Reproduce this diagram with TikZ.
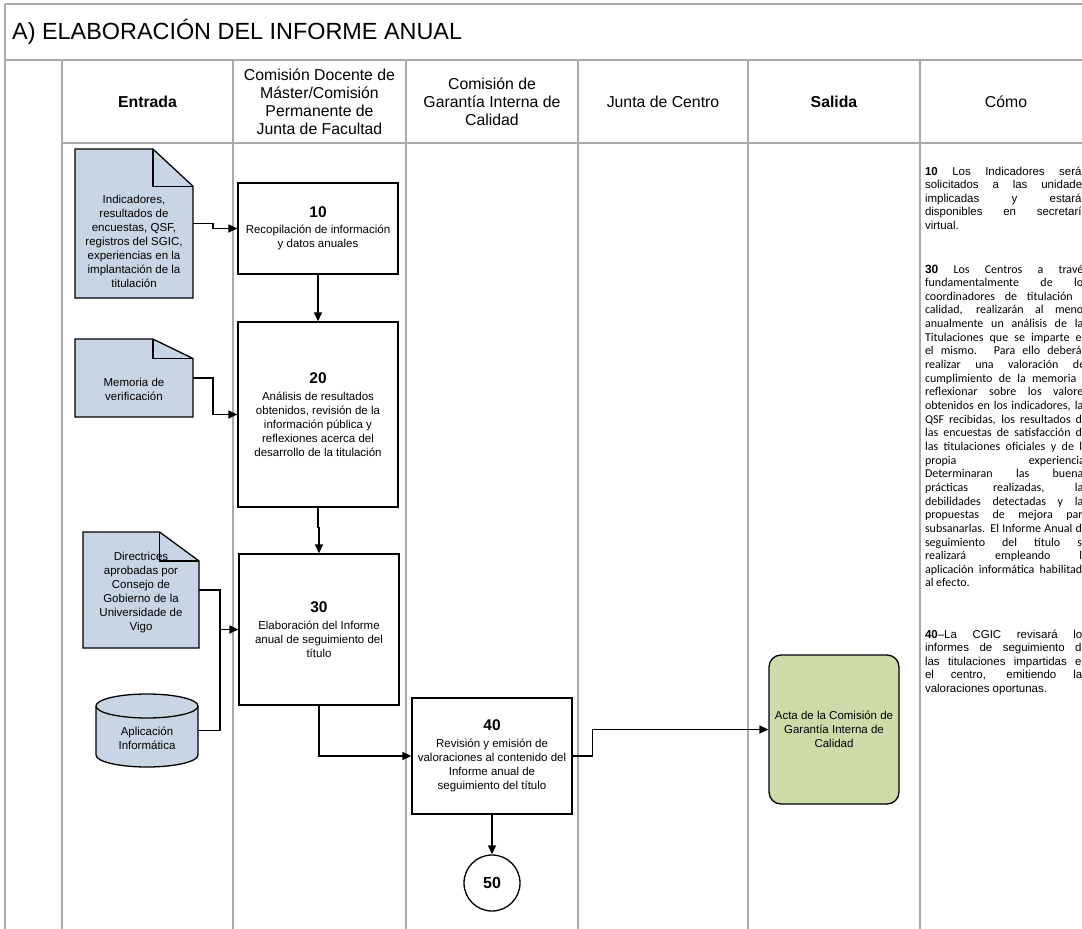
\documentclass[tikz,border=0pt]{standalone}
\usepackage{fontspec}
\setmainfont{Liberation Sans}
\newfontfamily\calibri{Carlito}
\usetikzlibrary{arrows.meta,calc}
\definecolor{docblue}{RGB}{200,213,228}
\definecolor{actagreen}{RGB}{204,219,168}
\definecolor{lanegray}{RGB}{170,170,170}
\pgfdeclarelayer{lanes}
\pgfdeclarelayer{background}
\pgfsetlayers{lanes,background,main}
\newcommand\boxfont{\fontsize{11.5}{14}\selectfont}
\newcommand\numfont{\fontsize{15.5}{17}\selectfont\bfseries}
\newcommand\arialfont{\fontsize{11.5}{13.65}\selectfont}
\newcommand\calfont{\calibri\fontsize{12}{13.65}\selectfont}
\tikzset{
  lane/.style={draw=lanegray, line width=1.6pt},
  shapeline/.style={draw=black, line width=1.3pt},
  procbox/.style={shapeline, fill=white, rectangle, inner sep=0pt, align=center, font=\boxfont},
  docanchor/.style={rectangle, inner sep=0pt, outer sep=0pt},
  doctext/.style={align=center, inner sep=0pt, font=\boxfont},
  hdr/.style={align=center, inner sep=0pt, font=\fontsize{15.8}{17.9}\selectfont},
  comoline/.style={anchor=base west, inner sep=0pt, outer sep=0pt},
  conn/.style={draw=black, line width=1.3pt},
  arr/.style={conn, -{Triangle[length=9pt,width=8pt]}},
}
\newcommand\docfig[5]{%
  \node[docanchor, minimum width={(#4-#2)*1pt}, minimum height={(#5-#3)*1pt}] (#1) at ({(#2+#4)/2},{(#3+#5)/2}) {};
  \pgfmathsetmacro\fx{#4-0.34*(#4-#2)}%
  \pgfmathsetmacro\fy{#3+0.25*(#5-#3)}%
  \begin{pgfonlayer}{background}
    \draw[shapeline, fill=docblue] (#2,#3) -- (\fx,#3) -- (#4,\fy) -- (#4,#5) -- (#2,#5) -- cycle;
  \end{pgfonlayer}
  \draw[shapeline] (\fx,#3) |- (#4,\fy);
}
\begin{document}
\begin{tikzpicture}[x=1pt,y=-1pt]
\useasboundingbox (0,0) rectangle (1082,929);
% ---------- table / lanes ----------
\begin{pgfonlayer}{lanes}
  \fill[white] (0,0) rectangle (1082,929);
  \draw[lane] (5,4) -- (1100,4);
  \draw[lane] (5,4) -- (5,940);
  \draw[lane] (5,60) -- (1100,60);
  \draw[lane] (62,143) -- (1100,143);
  \foreach \lx in {62,233,406,578,748,920}{
    \draw[lane] (\lx,60) -- (\lx,940);
  }
\end{pgfonlayer}
% ---------- title and headers ----------
\node[anchor=west, inner sep=0pt, font=\fontsize{23.4}{26}\selectfont] (title) at (12,32) {A) ELABORACIÓN DEL INFORME ANUAL};
\node[hdr] (hEnt) at (147.5,101.5) {\bfseries Entrada};
\node[hdr] (hCD) at (319.5,101.5) {Comisión Docente de\\Máster/Comisión\\Permanente de\\Junta de Facultad};
\node[hdr] (hCG) at (492,101.5) {Comisión de\\Garantía Interna de\\Calidad};
\node[hdr] (hJC) at (663,101.5) {Junta de Centro};
\node[hdr] (hSal) at (834,101.5) {\bfseries Salida};
\node[hdr] (hComo) at (1006,101.5) {Cómo};
% ---------- input documents ----------
\node[doctext] (d1t) at (134,241.5) {Indicadores,\\resultados de\\encuestas, QSF,\\registros del SGIC,\\experiencias en la\\implantación de la\\titulación};
\docfig{d1}{75}{149}{193}{298}
\node[doctext] (d2t) at (134,389) {Memoria de\\verificación};
\docfig{d2}{75}{339}{193}{417}
\node[doctext] (d3t) at (141,592.5) {Directrices\\aprobadas por\\Consejo de\\Gobierno de la\\Universidade de\\Vigo};
\docfig{d3}{83}{532}{199}{648}
% cylinder
\begin{pgfonlayer}{background}
  \draw[shapeline, fill=docblue] (96,706) -- (96,755)
    arc[start angle=180, end angle=360, x radius=51pt, y radius=12pt] -- (198,706)
    arc[start angle=0, end angle=180, x radius=51pt, y radius=12pt] -- cycle;
  \draw[shapeline] (96,706) arc[start angle=180, end angle=360, x radius=51pt, y radius=12pt];
\end{pgfonlayer}
\node[docanchor, minimum width=102pt, minimum height=73pt] (cyl) at (147,730.5) {};
\node[doctext] (cylt) at (147,738) {Aplicación\\Informática};
% ---------- process boxes ----------
\node[procbox, minimum width=160pt, minimum height=91pt] (b10) at (318,228.5)
  {{\numfont 10}\\[2.5pt]Recopilación de información\\y datos anuales};
\node[procbox, minimum width=160pt, minimum height=185pt] (b20) at (318,414.5)
  {{\numfont 20}\\[2.5pt]Análisis de resultados\\obtenidos, revisión de la\\información pública y\\reflexiones acerca del\\desarrollo de la titulación};
\node[procbox, minimum width=160pt, minimum height=151pt] (b30) at (319,629.5)
  {{\numfont 30}\\[2.5pt]Elaboración del Informe\\anual de seguimiento del\\título};
\node[procbox, minimum width=160pt, minimum height=116pt] (b40) at (492,756)
  {{\numfont 40}\\[2.5pt]Revisión y emisión de\\valoraciones al contenido del\\Informe anual de\\seguimiento del título};
\node[shapeline, circle, fill=white, minimum size=56pt, inner sep=0pt, font=\fontsize{16}{18}\selectfont\bfseries] (c50) at (492,883) {50};
\node[shapeline, rectangle, rounded corners=12pt, fill=actagreen, minimum width=130pt, minimum height=149pt, inner sep=0pt, align=center, font=\boxfont] (acta) at (834,729.5)
  {Acta de la Comisión de\\Garantía Interna de\\Calidad};
% ---------- connectors ----------
\draw[arr] (d1.east) -- ++(20,0) |- (b10.west);
\draw[arr] (b10.south) -- (b20.north);
\draw[arr] (d2.east) -- ++(20,0) |- (b20.west);
\draw[arr] (b20.south) -- ++(0,20) -| (b30.north);
\coordinate (j3) at ($(d3.east)+(21,0)$);
\draw[arr] (d3.east) -- (j3) |- (b30.west);
\draw[conn] (cyl.east) -| (j3);
\draw[arr] (b30.south) |- (b40.west);
\draw[arr] (b40.south) -- (c50.north);
\draw[arr] (b40.east) -- ++(20,0) |- (acta.west);
% ---------- Cómo column ----------
\foreach \t [count=\i from 0] in {
  {\textbf{10} Los Indicadores serán},
  {solicitados a las unidades},
  {implicadas y estarán},
  {disponibles en secretaría}}{
  \node[comoline, font=\arialfont] (p10-\i) at (925,{175+13.65*\i}) {\makebox[163pt][s]{\t}};
}
\node[comoline, font=\arialfont] (p10-4) at (925,{175+13.65*4}) {virtual.};
\foreach \t [count=\i from 0] in {
  {{\rmfamily\bfseries 30} Los Centros a través},
  {fundamentalmente de los},
  {coordinadores de titulación y},
  {calidad, realizarán al menos},
  {anualmente un análisis de las},
  {Titulaciones que se imparte en},
  {el mismo. Para ello deberán},
  {realizar una valoración del},
  {cumplimiento de la memoria y},
  {reflexionar sobre los valores},
  {obtenidos en los indicadores, las},
  {QSF recibidas, los resultados de},
  {las encuestas de satisfacción de},
  {las titulaciones oficiales y de la},
  {propia experiencia.},
  {Determinaran las buenas},
  {prácticas realizadas, las},
  {debilidades detectadas y las},
  {propuestas de mejora para},
  {subsanarlas. El Informe Anual de},
  {seguimiento del título se},
  {realizará empleando la},
  {aplicación informática habilitada}}{
  \node[comoline, font=\calfont] (p30-\i) at (925,{273+13.65*\i}) {\makebox[163pt][s]{\t}};
}
\node[comoline, font=\calfont] (p30-23) at (925,{273+13.65*23}) {al efecto.};
\foreach \t [count=\i from 0] in {
  {\textbf{40}–La CGIC revisará los},
  {informes de seguimiento de},
  {las titulaciones impartidas en},
  {el centro, emitiendo las}}{
  \node[comoline, font=\arialfont] (p40-\i) at (925,{638+13.65*\i}) {\makebox[163pt][s]{\t}};
}
\node[comoline, font=\arialfont] (p40-4) at (925,{638+13.65*4}) {valoraciones oportunas.};
\end{tikzpicture}
\end{document}
